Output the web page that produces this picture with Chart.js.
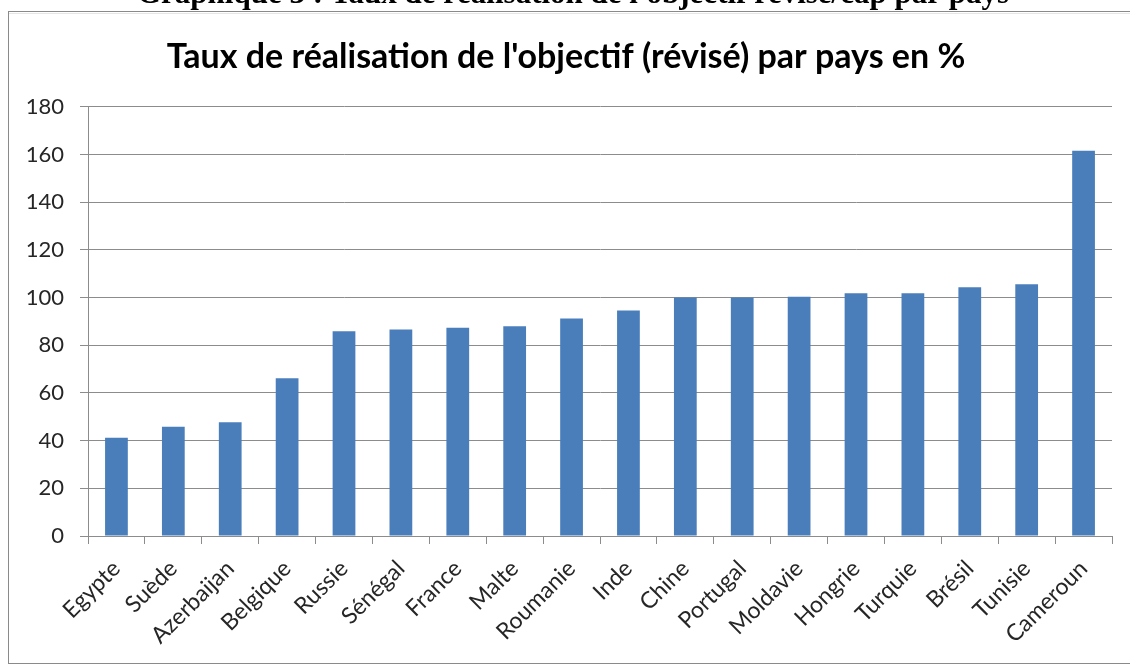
<!DOCTYPE html>
<html lang="fr">
<head>
<meta charset="utf-8">
<title>Taux de réalisation de l'objectif par pays</title>
<script src="https://cdn.jsdelivr.net/npm/chart.js@4.4.1/dist/chart.umd.min.js"></script>
<style>
  html, body { margin: 0; padding: 0; background: #ffffff; }
  #wrap { width: 1130px; height: 665px; position: relative; }
</style>
</head>
<body>
<div id="wrap"><canvas id="chart"></canvas></div>
<script>
const caption = "Graphique 3 : Taux de réalisation de l'objectif révisé/cap par pays";
const chartTitle = "Taux de réalisation de l'objectif (révisé) par pays en %";

const countries = [
  'Egypte', 'Suède', 'Azerbaijan', 'Belgique', 'Russie', 'Sénégal',
  'France', 'Malte', 'Roumanie', 'Inde', 'Chine', 'Portugal',
  'Moldavie', 'Hongrie', 'Turquie', 'Brésil', 'Tunisie', 'Cameroun'
];
const rates = [
  41.2, 45.8, 47.7, 66.2, 85.9, 86.6,
  87.3, 88.0, 91.2, 94.6, 100, 100,
  100.3, 101.8, 101.8, 104.3, 105.6, 161.6
];
const yMin = 0;
const yMax = 180;
const yStep = 20;

const font = "Lato, 'Open Sans', sans-serif";
const gridColor = '#8c8c8c';

// Page caption (cut off at the top) and the grey frame around the chart
const framePlugin = {
  id: 'frame',
  beforeDraw(chart) {
    const ctx = chart.ctx;
    ctx.save();
    ctx.fillStyle = '#ffffff';
    ctx.fillRect(0, 0, chart.width, chart.height);

    ctx.fillStyle = '#000000';
    ctx.font = "bold 31px 'Liberation Serif', 'DejaVu Serif', serif";
    ctx.textAlign = 'center';
    ctx.textBaseline = 'alphabetic';
    ctx.fillText(caption, 573, 3);

    ctx.strokeStyle = '#8a8a8a';
    ctx.lineWidth = 1;
    ctx.strokeRect(8.5, 11.5, chart.width + 10, chart.height - 13);
    ctx.strokeStyle = '#e6e6e6';
    ctx.beginPath();
    ctx.moveTo(9, 13.5);
    ctx.lineTo(chart.width, 13.5);
    ctx.stroke();
    ctx.restore();
  }
};

new Chart(document.getElementById('chart'), {
  type: 'bar',
  data: {
    labels: countries,
    datasets: [{
      data: rates,
      backgroundColor: '#4a7ebb',
      borderWidth: 0,
      categoryPercentage: 1,
      barPercentage: 0.4
    }]
  },
  options: {
    responsive: true,
    maintainAspectRatio: false,
    animation: false,
    layout: { padding: { top: 20, left: 20, right: 18, bottom: 0 } },
    plugins: {
      legend: { display: false },
      tooltip: { enabled: false },
      title: {
        display: true,
        text: chartTitle,
        color: '#000000',
        font: { family: font, size: 34, weight: 'bold', lineHeight: 1.2 },
        padding: { top: 17, bottom: 29 }
      }
    },
    scales: {
      x: {
        grid: {
          offset: true,
          drawOnChartArea: false,
          drawTicks: true,
          tickLength: 8,
          color: gridColor
        },
        border: { color: gridColor },
        ticks: {
          color: '#262626',
          font: { family: font, size: 23 },
          minRotation: 45,
          maxRotation: 45,
          autoSkip: false,
          padding: 11
        },
        afterFit(scale) { scale.height = 129; }
      },
      y: {
        min: yMin,
        max: yMax,
        grid: {
          color: gridColor,
          tickLength: 8
        },
        border: { color: gridColor },
        ticks: {
          stepSize: yStep,
          color: '#262626',
          font: { family: font, size: 22 },
          padding: 16
        },
        afterFit(scale) { scale.width = 68; }
      }
    }
  },
  plugins: [framePlugin]
});
</script>
</body>
</html>
